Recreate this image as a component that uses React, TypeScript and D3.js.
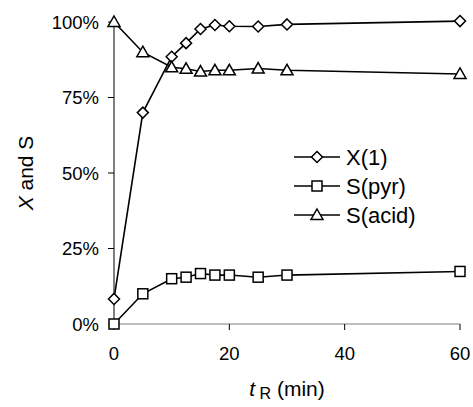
import React from "react";
import * as d3 from "d3";

const times = [0, 5, 10, 12.5, 15, 17.5, 20, 25, 30, 60];
const conversionX1 = [8.3, 70, 88.5, 93, 97.7, 99, 98.6, 98.5, 99.2, 100.3];
const selectivityPyr = [0, 10, 15, 15.5, 16.7, 16.2, 16.2, 15.5, 16.2, 17.4];
const selectivityAcid = [100, 90, 85, 84.5, 83.6, 84, 84, 84.6, 84, 82.8];
const xTicks = [0, 20, 40, 60];
const yTicks = [0, 25, 50, 75, 100];
const seriesNames = ["X(1)", "S(pyr)", "S(acid)"];

const W = 473;
const H = 407;
const FONT = "'Liberation Sans', Arial, sans-serif";

function Marker({ kind, x, y }: { kind: string; x: number; y: number }) {
  const common = { fill: "#fff", stroke: "#000", strokeWidth: 1.5 };
  if (kind === "diamond") {
    const r = 5.5;
    return <path d={`M${x},${y - r}L${x + r},${y}L${x},${y + r}L${x - r},${y}Z`} {...common} />;
  }
  if (kind === "square") {
    const r = 5;
    return <rect x={x - r} y={y - r} width={2 * r} height={2 * r} {...common} />;
  }
  const r = 6;
  return <path d={`M${x},${y - r}L${x + r},${y + 4.5}L${x - r},${y + 4.5}Z`} {...common} />;
}

export default function App() {
  const x = d3.scaleLinear().domain([0, 60]).range([114, 460]);
  const y = d3.scaleLinear().domain([0, 100]).range([324, 22]);
  const series = [
    { name: seriesNames[0], values: conversionX1, kind: "diamond" },
    { name: seriesNames[1], values: selectivityPyr, kind: "square" },
    { name: seriesNames[2], values: selectivityAcid, kind: "triangle" },
  ];
  const line = d3
    .line<number>()
    .x((_, i) => x(times[i]))
    .y((v) => y(v));

  return (
    <svg width={W} height={H} style={{ position: "absolute", left: 0, top: 0 }} fontFamily={FONT}>
      <rect width={W} height={H} fill="#fff" />
      {/* axes */}
      <line x1={x(0)} x2={x(60)} y1={y(0)} y2={y(0)} stroke="#808080" strokeWidth={1} />
      {xTicks.map((t) => (
        <g key={"xt" + t}>
          <line x1={x(t)} x2={x(t)} y1={y(0)} y2={y(0) + 6} stroke="#000" strokeWidth={1} />
          <text x={x(t)} y={353} fontSize={18.5} textAnchor="middle" dominantBaseline="central">
            {t}
          </text>
        </g>
      ))}
      <line x1={x(0)} x2={x(0)} y1={y(0)} y2={y(100)} stroke="#000" strokeWidth={1} />
      {yTicks.map((t) => (
        <g key={"yt" + t}>
          <line x1={x(0) - 6} x2={x(0)} y1={y(t)} y2={y(t)} stroke="#000" strokeWidth={1} />
          <text x={99} y={y(t)} fontSize={18.5} textAnchor="end" dominantBaseline="central">
            {t}%
          </text>
        </g>
      ))}
      {/* series */}
      {series.map((s) => (
        <g key={s.name}>
          <path d={line(s.values) || ""} fill="none" stroke="#000" strokeWidth={1.6} />
          {s.values.map((v, i) => (
            <Marker key={i} kind={s.kind} x={x(times[i])} y={y(v)} />
          ))}
        </g>
      ))}
      {/* legend */}
      {series.map((s, i) => {
        const ly = 157 + i * 29;
        return (
          <g key={"lg" + s.name}>
            <line x1={294} x2={340} y1={ly} y2={ly} stroke="#000" strokeWidth={1.6} />
            <Marker kind={s.kind} x={317} y={ly} />
            <text x={346} y={ly} fontSize={22} dominantBaseline="central">
              {s.name}
            </text>
          </g>
        );
      })}
      {/* axis titles */}
      <text
        transform={`translate(25,173) rotate(-90)`}
        fontSize={21}
        textAnchor="middle"
        dominantBaseline="central"
      >
        <tspan fontStyle="italic">X</tspan> and S
      </text>
      <text x={287} y={388} fontSize={21} textAnchor="middle" dominantBaseline="central">
        <tspan fontStyle="italic">t</tspan>
        <tspan fontSize={16} dy={5}> R</tspan>
        <tspan dy={-5}> (min)</tspan>
      </text>
    </svg>
  );
}
